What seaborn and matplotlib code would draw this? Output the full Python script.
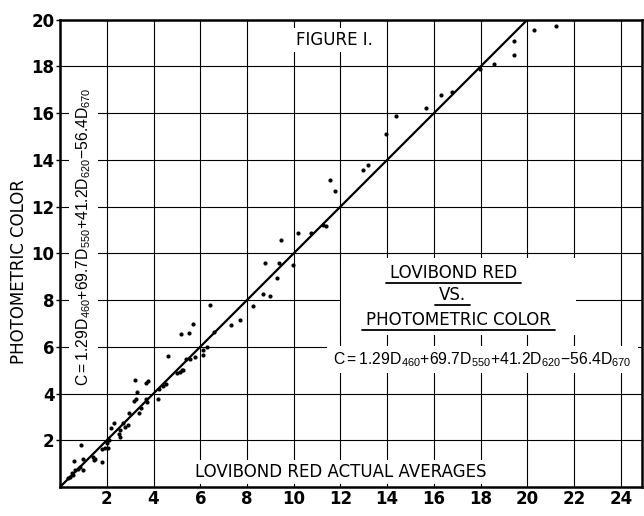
import matplotlib
matplotlib.use("Agg")
import matplotlib.pyplot as plt
from matplotlib.patches import Rectangle
from matplotlib.lines import Line2D
from matplotlib.transforms import Bbox
import seaborn as sns
import pandas as pd

# valores: Lovibond rojo (x) contra color fotometrico (y)
lovibond = [
    21.24, 20.26, 19.44, 19.43, 18.55, 17.99, 16.77, 16.30, 15.64, 14.36,
    13.95, 13.18, 12.98, 11.55, 11.75, 11.37, 11.27, 10.75, 10.17, 9.46,
    8.77, 9.37, 9.97, 9.30, 8.68, 8.99, 8.26, 6.41, 7.69, 7.31,
    5.68, 5.50, 5.18, 6.60, 6.30, 6.10, 6.10, 5.77, 5.56, 5.38,
    4.60, 5.27, 5.13, 5.00, 5.20, 3.20, 3.77, 3.68, 3.30, 4.42,
    4.52, 4.23, 4.21, 3.25, 3.18, 3.68, 3.73, 3.46, 3.39, 2.96,
    2.31, 2.17, 2.71, 2.92, 2.79, 2.56, 2.53, 2.56, 2.09, 2.04,
    1.92, 1.78, 2.02, 0.90, 1.42, 1.50, 1.00, 0.60, 1.81, 1.45,
    0.97, 0.85, 0.64, 0.50, 0.43, 0.57, 0.36, 0.78,
]
photometric = [
    19.74, 19.56, 19.07, 18.49, 18.09, 17.88, 16.89, 16.79, 16.21, 15.88,
    15.09, 13.76, 13.58, 13.15, 12.66, 11.17, 11.23, 10.87, 10.87, 10.56,
    9.57, 9.57, 9.49, 8.94, 8.28, 8.18, 7.75, 7.78, 7.15, 6.95,
    6.98, 6.60, 6.54, 6.64, 6.00, 5.85, 5.65, 5.57, 5.48, 5.47,
    5.60, 5.00, 4.93, 4.88, 5.02, 4.57, 4.53, 4.43, 4.07, 4.32,
    4.42, 4.20, 3.75, 3.75, 3.66, 3.75, 3.63, 3.36, 3.15, 3.15,
    2.72, 2.51, 2.72, 2.65, 2.58, 2.44, 2.26, 2.15, 2.00, 1.65,
    1.65, 1.61, 1.87, 1.78, 1.27, 1.20, 1.20, 1.12, 1.08, 1.15,
    0.73, 0.87, 0.73, 0.58, 0.44, 0.51, 0.38, 0.76,
]

# recta de igualdad
ideal = [0, 20]

x_ticks = [2, 4, 6, 8, 10, 12, 14, 16, 18, 20, 22, 24]
y_ticks = [2, 4, 6, 8, 10, 12, 14, 16, 18, 20]

titulo = 'FIGURE I.'
eje_x = 'LOVIBOND RED ACTUAL AVERAGES'
eje_y = 'PHOTOMETRIC COLOR'
bloque_lineas = ['LOVIBOND RED', 'VS.', 'PHOTOMETRIC COLOR']
# operadores entre llaves para que mathtext no meta espacios
ecuacion = r'$\mathrm{C{=}1.29D_{460}{+}69.7D_{550}{+}41.2D_{620}{-}56.4D_{670}}$'

df = pd.DataFrame({'Lovibond': lovibond, 'Photometric': photometric})

sns.set_theme(style='white')
plt.rcParams['font.family'] = ['DejaVu Sans']
plt.rcParams['mathtext.fontset'] = 'custom'
plt.rcParams['mathtext.rm'] = 'Liberation Sans'
plt.rcParams['mathtext.it'] = 'Liberation Sans:italic'
plt.rcParams['mathtext.bf'] = 'Liberation Sans:bold'

fig = plt.figure(figsize=(6.44, 5.16), dpi=100)
ax = fig.add_axes([0.0932, 0.0562, 0.9037, 0.9058])

sns.lineplot(x=ideal, y=ideal, color='black', linewidth=1.6, ax=ax, zorder=3)
sns.scatterplot(data=df, x='Lovibond', y='Photometric', color='black',
                s=9, linewidth=0, ax=ax, zorder=4)

ax.set_xlim(0, 24.9)
ax.set_ylim(0, 20)
ax.set_xticks(x_ticks)
ax.set_yticks(y_ticks)
ax.set_axisbelow(True)
ax.grid(True, color='black', linewidth=0.8)
for s in ax.spines.values():
    s.set_color('black')
    s.set_linewidth(1.8)

ax.tick_params(axis='x', bottom=False, length=0, pad=2, labelsize=12, labelcolor='black')
ax.tick_params(axis='y', left=True, length=3, width=1, pad=1, labelsize=12,
               color='black', labelcolor='black')
for lab in ax.get_xticklabels() + ax.get_yticklabels():
    lab.set_fontweight('bold')

ax.set_xlabel('')
ax.set_ylabel(eje_y, fontsize=12, color='black')
ax.yaxis.set_label_coords(-0.055, 0.46)

caja = dict(facecolor='white', edgecolor='none', pad=2)
ax.text(11.75, 18.9, titulo, ha='center', va='baseline', fontsize=12,
        color='black', bbox=caja, zorder=5)
ax.text(12.0, 0.43, eje_x, ha='center', va='baseline', fontsize=12,
        color='black', bbox=caja, zorder=5)
ax.text(1.0, 10.7, ecuacion, rotation=90, ha='center', va='center', fontsize=11.3,
        color='black', bbox=dict(facecolor='white', edgecolor='none', pad=4), zorder=5)

t1 = ax.text(16.84, 8.93, bloque_lineas[0], ha='center', va='baseline', fontsize=12, color='black', zorder=5)
t2 = ax.text(16.8, 8.0, bloque_lineas[1], ha='center', va='baseline', fontsize=12, color='black', zorder=5)
t3 = ax.text(17.05, 6.92, bloque_lineas[2], ha='center', va='baseline', fontsize=12, color='black', zorder=5)
t4 = ax.text(11.7, 5.26, ecuacion, ha='left', va='baseline', fontsize=11.3, color='black', zorder=5)

# fondo blanco y subrayados a partir del tamaño real de los textos
fig.canvas.draw()
renderer = fig.canvas.get_renderer()
a_ejes = ax.transAxes.inverted()


def fondo(bb, px, py):
    (x0, y0), (x1, y1) = a_ejes.transform([[bb.x0 - px, bb.y0 - py], [bb.x1 + px, bb.y1 + py]])
    ax.add_patch(Rectangle((x0, y0), x1 - x0, y1 - y0, transform=ax.transAxes,
                           facecolor='white', edgecolor='none', zorder=2))


fondo(Bbox.union([t.get_window_extent(renderer) for t in (t1, t2, t3)]), 25, 6)
fondo(t4.get_window_extent(renderer), 6, 4)

for t in (t1, t2, t3):
    bb = t.get_window_extent(renderer)
    (x0, y0), (x1, _) = a_ejes.transform([[bb.x0 - 4, bb.y0 - 1], [bb.x1 + 4, bb.y0 - 1]])
    ax.add_line(Line2D([x0, x1], [y0, y0], transform=ax.transAxes, color='black',
                       linewidth=1.3, zorder=5, clip_on=False))

plt.savefig('out.png', dpi=100)
plt.close()
